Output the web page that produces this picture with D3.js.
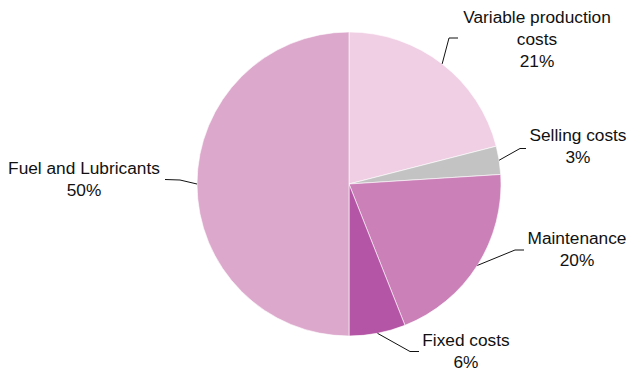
<!DOCTYPE html>
<html>
<head>
<meta charset="utf-8">
<script src="https://cdn.jsdelivr.net/npm/d3@7"></script>
<style>
  html, body { margin: 0; padding: 0; background: #fff; }
  svg { display: block; }
  text { font-family: "Liberation Sans", Arial, Helvetica, sans-serif; fill: #111; }
</style>
</head>
<body>
<svg id="chart" width="632" height="372"></svg>
<script>
// Cost breakdown, clockwise from 12 o'clock
const categories = ["Variable production costs", "Selling costs", "Maintenance", "Fixed costs", "Fuel and Lubricants"];
const shares = [21, 3, 20, 6, 50];
const labelLines = [["Variable production", "costs"], ["Selling costs"], ["Maintenance"], ["Fixed costs"], ["Fuel and Lubricants"]];
const colors = ["#f0cee3", "#c3c3c3", "#cb80b8", "#b555a5", "#dca8cc"];

// Label placement: text anchor point, leader elbow and leader end
const labelLayout = [
  { tx: 537, ty: 22.5, elbow: [449, 38], end: [458, 38] },
  { tx: 578, ty: 141, elbow: [520, 148.5], end: [526, 148.5] },
  { tx: 577, ty: 244, elbow: [515, 250], end: [524, 250] },
  { tx: 466, ty: 346, elbow: [410, 351.5], end: [419, 351.5] },
  { tx: 84, ty: 174, elbow: [180, 180], end: [165, 179.5] }
];

const svg = d3.select("#chart");
const cx = 349, cy = 184, r = 152;
const fontSize = 17.3, lineGap = 22;

const pie = d3.pie().sort(null).value(d => d)(shares);
const arc = d3.arc().innerRadius(0).outerRadius(r);

const g = svg.append("g").attr("transform", `translate(${cx},${cy})`);
g.selectAll("path.slice")
  .data(pie)
  .join("path")
  .attr("class", "slice")
  .attr("d", arc)
  .attr("fill", (d, i) => colors[i])
  .attr("stroke", "#fff")
  .attr("stroke-width", 0.6);

// Leader lines from the rim at each slice's mid angle
pie.forEach((d, i) => {
  const a = (d.startAngle + d.endAngle) / 2;
  const sx = cx + r * Math.sin(a), sy = cy - r * Math.cos(a);
  const L = labelLayout[i];
  svg.append("polyline")
    .attr("points", [[sx, sy], L.elbow, L.end].map(p => p.join(",")).join(" "))
    .attr("fill", "none")
    .attr("stroke", "#111")
    .attr("stroke-width", 1);

  const t = svg.append("text")
    .attr("text-anchor", "middle")
    .attr("font-size", fontSize);
  const lines = labelLines[i].concat([shares[i] + "%"]);
  lines.forEach((ln, k) => {
    t.append("tspan").attr("x", L.tx).attr("y", L.ty + k * lineGap).text(ln);
  });
});
</script>
</body>
</html>
